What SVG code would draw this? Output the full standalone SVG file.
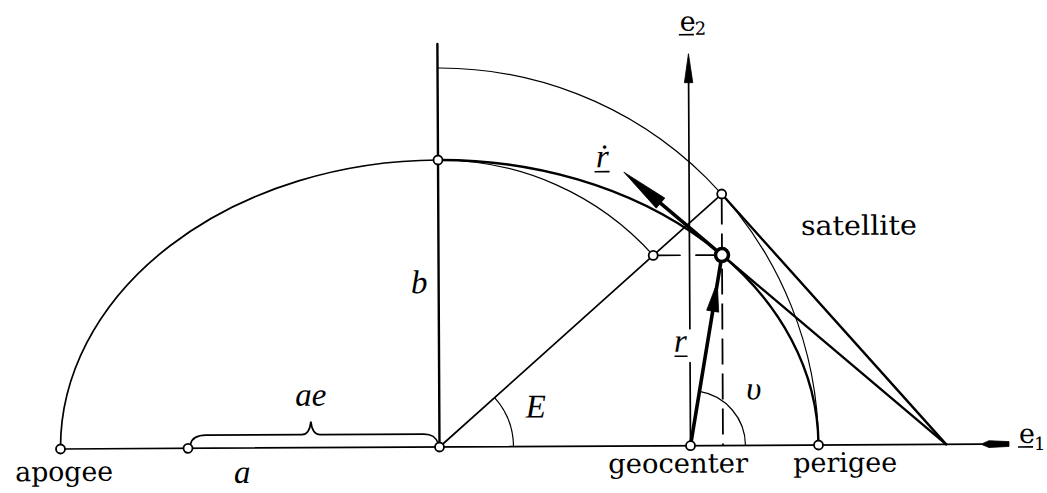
<svg xmlns="http://www.w3.org/2000/svg" width="1047" height="493" viewBox="0 0 1047 493">
<style>
.ln{fill:none;stroke:#000;stroke-linecap:round}
.t1{stroke-width:1.2}.t2{stroke-width:1.7}.t3{stroke-width:2.4}.t4{stroke-width:3.6}
.dash{fill:none;stroke:#000;stroke-width:1.8;stroke-dasharray:26 9}
.pt{fill:#fff;stroke:#000;stroke-width:1.8}
.lbl{font-family:"DejaVu Serif","Liberation Serif",serif;font-size:27px;fill:#000}
.math{font-family:"Liberation Serif","DejaVu Serif",serif;font-style:italic;font-size:33px;fill:#000}
.sub{font-family:"DejaVu Serif","Liberation Serif",serif;font-size:18px;fill:#000}
.ul{stroke:#000;stroke-width:1.6}
.ah{fill:#000;stroke:#000;stroke-width:0.8;stroke-linejoin:round}
</style>
<rect width="1047" height="493" fill="#fff"/>
<g transform="rotate(-0.3 439.5 447)">
<g id="connectors">
  <path class="ln t2" d="M60.5 447 H981"/>
  <polygon class="ah" points="981,447 989,443.6 1009,444.6 1009,449.4 989,450.4"/>
  <path class="ln t3" d="M439.5 44 V447"/>
  <path class="ln t2" d="M690.5 447 V364 M690.5 330 V84"/>
  <polygon class="ah" points="690.5,55 694.7,84 686.3,84"/>
  <path class="ln t2" d="M60.5 447 A379 287 0 0 1 439.5 160"/>
  <path class="ln t3" d="M439.5 160 A379 287 0 0 1 818.5 447"/>
  <path class="ln t1" d="M439.5 68 A379 379 0 0 1 818.5 447"/>
  <path class="ln t1" d="M439.5 160 A287 287 0 0 1 654.2 256.5"/>
  <path class="ln t2" d="M439.5 447 L723 195.5"/>
  <path class="ln t3" d="M723 195.5 L946.2 447"/>
  <path class="ln t3" d="M723 256.5 L946.2 447"/>
  <path class="ln t4" d="M723 256.5 L662 204.5"/>
  <polygon class="ah" points="625.3,173.1 666.1,199.3 657.5,209.3"/>
  <path class="ln t2" d="M659 256.5 H681 M697 256.5 H717"/>
  <path class="dash" d="M723 200 V447"/>
  <path class="ln t4" d="M690.5 447 L723 256.5"/>
  <polygon class="ah" points="718.1,284 719.4,313.6 707.4,311.6"/>
  <path class="ln t1" d="M513.5 447 A74 74 0 0 0 494.85 397.9"/>
  <path class="ln t1" d="M745.5 447 A55 55 0 0 0 699.7 392.8"/>
  <path class="ln t2" d="M190.5 443 C192 436.5 197 434 206 434 L302 434 C307 434 310 430 311 421 C312 430 315 434 320 434 L424 434 C432 434 436 437 438.5 444"/>
</g>
<g id="apogee"><circle class="pt" cx="60.5" cy="447" r="4.5"/><text class="lbl" x="15" y="479" textLength="98" lengthAdjust="spacingAndGlyphs">apogee</text></g>
<g id="focus2"><circle class="pt" cx="188" cy="447" r="4.5"/><text class="math" x="242" y="482" text-anchor="middle">a</text></g>
<g id="ellipse-center"><circle class="pt" cx="439.5" cy="447" r="4.5"/><text class="math" x="311" y="405" text-anchor="middle">ae</text><text class="math" x="420" y="293" text-anchor="middle">b</text><text class="math" x="536" y="418" text-anchor="middle">E</text></g>
<g id="minor-vertex"><circle class="pt" cx="439.5" cy="160" r="4.5"/></g>
<g id="circle-point"><circle class="pt" cx="723" cy="195.5" r="4.5"/></g>
<g id="b-circle-point"><circle class="pt" cx="654.2" cy="256.5" r="4.5"/></g>
<g id="geocenter"><circle class="pt" cx="690.5" cy="447" r="4.5"/><text class="lbl" x="608" y="474" textLength="140" lengthAdjust="spacingAndGlyphs">geocenter</text><text class="math" x="754" y="401" text-anchor="middle">υ</text></g>
<g id="perigee"><circle class="pt" cx="818.5" cy="447" r="4.5"/><text class="lbl" x="793" y="474" textLength="104" lengthAdjust="spacingAndGlyphs">perigee</text></g>
<g id="satellite"><circle class="pt" cx="723" cy="256.5" r="6.5" style="stroke-width:3.5"/><text class="lbl" x="802" y="237" textLength="116" lengthAdjust="spacingAndGlyphs">satellite</text></g>
<g id="r-label"><text class="math" x="681" y="353" text-anchor="middle">r</text><line class="ul" x1="675" y1="357.5" x2="688" y2="357.5"/></g>
<g id="rdot-label"><text class="math" x="604" y="168" text-anchor="middle">ṙ</text><line class="ul" x1="596" y1="172.5" x2="611" y2="172.5"/></g>
<g id="e2-label"><text class="lbl" x="682" y="32">e</text><line class="ul" x1="681" y1="36" x2="696" y2="36"/><text class="sub" x="697" y="36">2</text></g>
<g id="e1-label"><text class="lbl" x="1019" y="446">e</text><line class="ul" x1="1018" y1="450" x2="1033" y2="450"/><text class="sub" x="1034" y="453">1</text></g>
</g>
</svg>
